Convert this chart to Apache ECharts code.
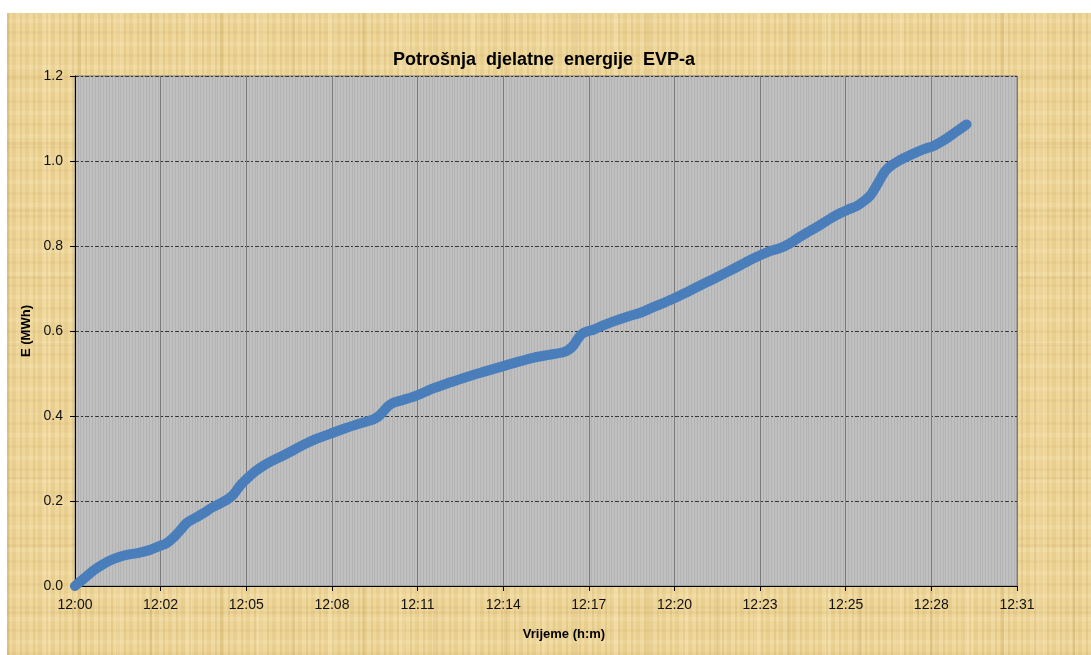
<!DOCTYPE html>
<html>
<head>
<meta charset="utf-8">
<script src="https://cdn.jsdelivr.net/npm/echarts@6/dist/echarts.min.js"></script>
<style>
  html, body { margin: 0; padding: 0; background: #ffffff; }
  #frame { position: relative; width: 1091px; height: 655px; overflow: hidden; background: #ffffff; }
  #paper {
    position: absolute; left: 7px; top: 13px; right: 0; bottom: 0;
    background-color: #ecd394;
    background-image:
      repeating-linear-gradient(90deg, rgba(180,140,60,0.12) 0 2px, rgba(255,240,200,0.12) 2px 5px, rgba(190,150,70,0.07) 5px 9px, rgba(255,245,210,0.14) 9px 13px),
      repeating-linear-gradient(90deg, rgba(160,120,50,0.12) 0 3px, transparent 3px 37px, rgba(255,240,200,0.18) 37px 43px, transparent 43px 71px),
      repeating-linear-gradient(0deg, rgba(190,150,70,0.10) 0 3px, transparent 3px 11px, rgba(255,245,215,0.16) 11px 15px, transparent 15px 23px),
      repeating-linear-gradient(0deg, transparent 0 41px, rgba(170,130,60,0.10) 41px 44px, transparent 44px 67px);
  }
  #chart { position: absolute; left: 0; top: 0; width: 1091px; height: 655px; }
</style>
</head>
<body>
<div id="frame">
  <div id="paper"></div>
  <div id="chart"></div>
</div>
<script>
// Time axis labels (h:m), one per major division
const tickLabels = ['12:00', '12:02', '12:05', '12:08', '12:11', '12:14', '12:17', '12:20', '12:23', '12:25', '12:28', '12:31'];

// Minutes elapsed since 12:00
const minutes = [
  0, 0.3, 0.6, 0.9, 1.15, 1.45, 1.7, 2.1, 2.47, 2.75, 3.02, 3.23, 3.45, 3.67, 3.95, 4.22, 4.5, 4.77,
  5.0, 5.21, 5.43, 5.65, 5.9, 6.2, 6.5, 6.85, 7.2, 7.51, 7.9, 8.39, 8.8, 9.27, 9.6, 9.82, 10.0, 10.15,
  10.3, 10.47, 10.8, 11.24, 11.79, 12.3, 12.89, 13.5, 14.12, 14.6, 15.08, 15.6, 16.07, 16.25, 16.4,
  16.55, 16.7, 16.9, 17.06, 17.38, 17.7, 18.15, 18.6, 19.03, 19.4, 19.72, 20.15, 20.57, 21.0, 21.44,
  21.88, 22.3, 22.87, 23.2, 23.5, 23.86, 24.2, 24.51, 24.85, 25.17, 25.45, 25.72, 25.95, 26.16, 26.32,
  26.49, 26.65, 26.82, 27.1, 27.37, 27.7, 28.02, 28.24, 28.45, 28.68, 29.0, 29.34
];

// Cumulative active energy (MWh)
const energy = [
  0, 0.018, 0.036, 0.050, 0.060, 0.068, 0.073, 0.078, 0.085, 0.093, 0.101, 0.113, 0.130, 0.148, 0.160, 0.171, 0.184, 0.194,
  0.203, 0.215, 0.236, 0.252, 0.268, 0.283, 0.295, 0.307, 0.320, 0.332, 0.345, 0.358, 0.369, 0.380, 0.387, 0.392, 0.400, 0.411,
  0.423, 0.431, 0.438, 0.448, 0.465, 0.478, 0.492, 0.505, 0.518, 0.528, 0.537, 0.544, 0.550, 0.556, 0.566,
  0.582, 0.594, 0.600, 0.603, 0.613, 0.622, 0.633, 0.643, 0.656, 0.667, 0.677, 0.692, 0.707, 0.722, 0.738,
  0.754, 0.770, 0.788, 0.795, 0.805, 0.822, 0.836, 0.849, 0.864, 0.877, 0.886, 0.894, 0.905, 0.918, 0.935,
  0.956, 0.975, 0.987, 1.000, 1.010, 1.021, 1.030, 1.035, 1.043, 1.053, 1.069, 1.086
];

const xMax = 31;
const xStep = xMax / (tickLabels.length - 1);
const font = '"Liberation Sans", Arial, sans-serif';

const chart = echarts.init(document.getElementById('chart'), null, { renderer: 'canvas' });
chart.setOption({
  backgroundColor: 'transparent',
  animation: false,
  title: {
    text: 'Potrošnja  djelatne  energije  EVP-a',
    left: 539, top: 46, textAlign: 'center',
    textStyle: { fontFamily: font, fontSize: 18, fontWeight: 'bold', color: '#000' }
  },
  grid: {
    left: 75, right: 74, top: 76, bottom: 69,
    show: true, backgroundColor: '#c0c0c0', borderColor: '#808080', borderWidth: 1
  },
  xAxis: {
    type: 'value', min: 0, max: xMax, interval: xStep,
    name: 'Vrijeme (h:m)', nameLocation: 'middle', nameGap: 42,
    nameTextStyle: { fontFamily: font, fontSize: 13, fontWeight: 'bold', color: '#000', padding: [0, 0, 0, 36] },
    axisLine: { show: true, onZero: false, lineStyle: { color: '#000', width: 1 } },
    axisTick: { show: true, length: 5, lineStyle: { color: '#000' } },
    axisLabel: {
      fontFamily: font, fontSize: 14, color: '#111', margin: 12,
      formatter: v => tickLabels[Math.round(v / xStep)] || ''
    },
    splitLine: { show: true, lineStyle: { color: '#7a7a7a', width: 1 } },
    minorTick: { show: false, splitNumber: 30 },
    minorSplitLine: { show: true, lineStyle: { color: 'rgba(150,150,150,0.3)', width: 1 } }
  },
  yAxis: {
    type: 'value', min: 0, max: 1.2, interval: 0.2,
    name: 'E (MWh)', nameLocation: 'middle', nameGap: 35, nameRotate: 90,
    nameTextStyle: { fontFamily: font, fontSize: 13, fontWeight: 'bold', color: '#000' },
    axisLine: { show: true, lineStyle: { color: '#000', width: 1 } },
    axisTick: { show: true, length: 5, lineStyle: { color: '#000' } },
    axisLabel: {
      fontFamily: font, fontSize: 14, color: '#111', margin: 12,
      formatter: v => v.toFixed(1)
    },
    splitLine: { show: true, lineStyle: { color: '#2e2e2e', width: 1, type: [4, 2, 2, 2] } }
  },
  series: [{
    type: 'line',
    data: minutes.map((t, i) => [t, energy[i]]),
    smooth: 0.3,
    showSymbol: false,
    lineStyle: { color: '#4a7ebb', width: 10, cap: 'round', join: 'round' },
    itemStyle: { color: '#4a7ebb' }
  }]
});
</script>
</body>
</html>
